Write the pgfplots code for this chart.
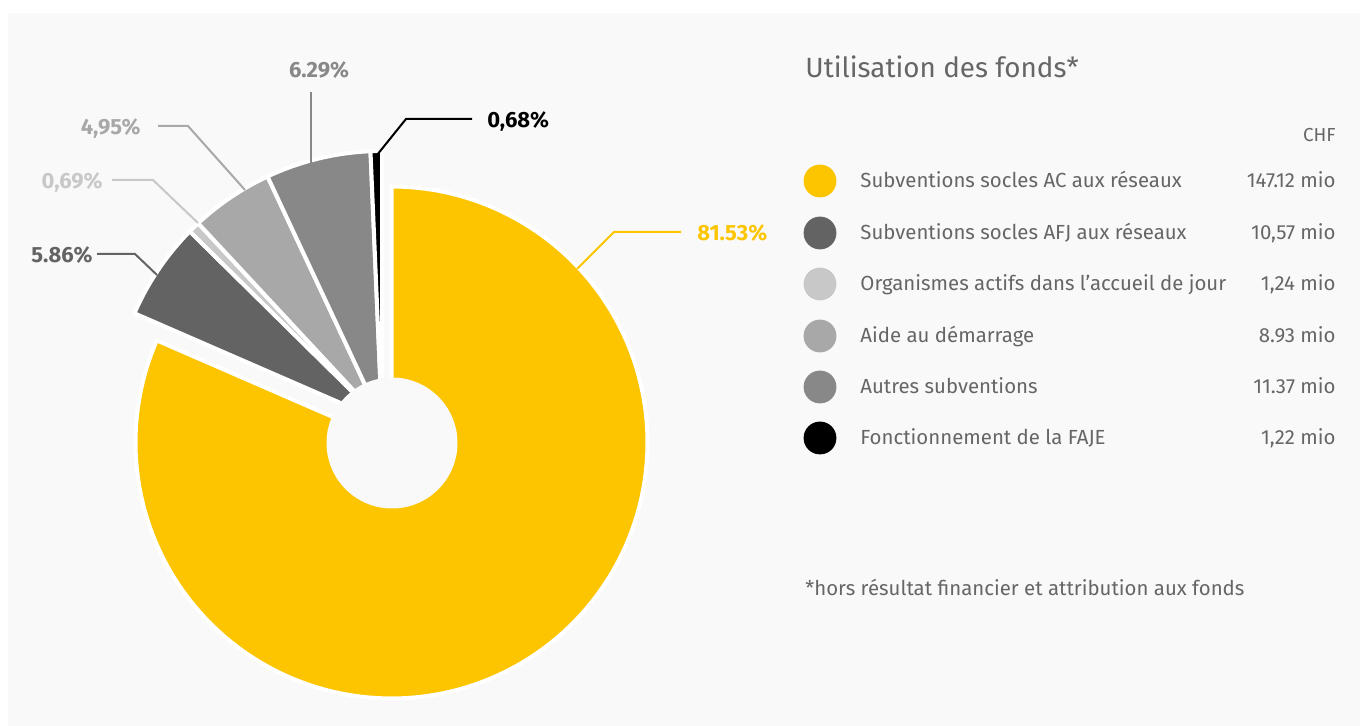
\documentclass[border=0pt]{standalone}
\usepackage{pgfplots}
\pgfplotsset{compat=1.18}
\usepackage{fontspec}
\setmainfont{Fira Sans}

\definecolor{yel}{HTML}{FCC500}
\definecolor{dgray}{HTML}{636363}
\definecolor{lgray}{HTML}{C8C8C8}
\definecolor{mgray}{HTML}{A8A8A8}
\definecolor{ggray}{HTML}{888888}
\definecolor{panel}{HTML}{F9F9F9}
\definecolor{txt}{HTML}{666666}

% one slice of the ring: colour, apex x, apex y, radius, start %, end % (clockwise from the top)
\newcommand{\slice}[6]{%
  \addplot[fill=#1, draw=white, line width=2bp, line join=round,
    domain={90-3.6*#6}:{90-3.6*#5}, samples=150, variable=\t]
    ({#2+#4*cos(\t)}, {#3+#4*sin(\t)}) -- (axis cs:#2,#3) -- cycle;
}

\begin{document}
\begin{tikzpicture}
\begin{axis}[
    width=680bp, height=363bp, scale only axis,
    xmin=0, xmax=1360, ymin=0, ymax=726,
    hide axis, clip=false,
]
% background
\addplot[fill=white, draw=none] coordinates {(0,0) (1360,0) (1360,726) (0,726)} -- cycle;
\addplot[fill=panel, draw=none] coordinates {(8,0) (1360,0) (1360,713) (8,713)} -- cycle;

% shares in %: 81.53, 5.86, 0.69, 4.95, 6.29, 0.68
\slice{yel}{391.5}{283.5}{256}{0}{81.53}
\slice{dgray}{382}{305}{270}{81.53}{87.39}
\slice{lgray}{382}{305}{270}{87.39}{88.08}
\slice{mgray}{382}{305}{270}{88.08}{93.03}
\slice{ggray}{382}{305}{270}{93.03}{99.32}
\slice{black}{382}{305}{270}{99.32}{100}

% hole
\addplot[fill=panel, draw=none, domain=0:360, samples=120, variable=\t]
  ({392+65.5*cos(\t)}, {283+65.5*sin(\t)}) -- cycle;

% leader lines
\addplot[yel, line width=1bp] coordinates {(577,457) (614,494) (681,494)};
\addplot[dgray, line width=1bp] coordinates {(97,472) (135,472) (157,451)};
\addplot[lgray, line width=1bp] coordinates {(112,546) (153,546) (198,503)};
\addplot[mgray, line width=1bp] coordinates {(158,600) (188,600) (245,536)};
\addplot[ggray, line width=1bp] coordinates {(311,634) (311,563)};
\addplot[black, line width=1bp] coordinates {(472,607) (406,607) (377,571)};

% percentage labels
\tikzset{pct/.style={font=\fontsize{11bp}{13bp}\selectfont\bfseries, inner sep=0pt}}
\node[pct, yel, anchor=base west] at (axis cs:697,485.5) {81.53\%};
\node[pct, dgray, anchor=base east] at (axis cs:93,463.5) {5.86\%};
\node[pct, lgray, anchor=base east] at (axis cs:103,537.5) {0,69\%};
\node[pct, mgray, anchor=base east] at (axis cs:141,591.5) {4,95\%};
\node[pct, ggray, anchor=base] at (axis cs:319,648.5) {6.29\%};
\node[pct, black, anchor=base west] at (axis cs:487,598.5) {0,68\%};

% legend
\addplot[only marks, mark=*, mark size=8bp, yel] coordinates {(820,545)};
\addplot[only marks, mark=*, mark size=8bp, dgray] coordinates {(820,493)};
\addplot[only marks, mark=*, mark size=8bp, lgray] coordinates {(820,442)};
\addplot[only marks, mark=*, mark size=8bp, mgray] coordinates {(820,390)};
\addplot[only marks, mark=*, mark size=8bp, ggray] coordinates {(820,339)};
\addplot[only marks, mark=*, mark size=8bp, black] coordinates {(820,288)};

\tikzset{leg/.style={font=\fontsize{10.2bp}{12bp}\selectfont, txt, inner sep=0pt}}
\node[font=\fontsize{13.9bp}{16bp}\selectfont, txt, inner sep=0pt, anchor=base west] at (axis cs:805,648.5) {Utilisation des fonds*};
\node[leg, anchor=base east, font=\fontsize{9.4bp}{11bp}\selectfont] at (axis cs:1336,584) {CHF};
\node[leg, anchor=base west] at (axis cs:860,538) {Subventions socles AC aux réseaux};
\node[leg, anchor=base west] at (axis cs:860,486) {Subventions socles AFJ aux réseaux};
\node[leg, anchor=base west] at (axis cs:860,435) {Organismes actifs dans l'accueil de jour};
\node[leg, anchor=base west] at (axis cs:860,383) {Aide au démarrage};
\node[leg, anchor=base west] at (axis cs:860,332) {Autres subventions};
\node[leg, anchor=base west] at (axis cs:860,281) {Fonctionnement de la FAJE};
\node[leg, anchor=base east] at (axis cs:1336,538) {147.12 mio};
\node[leg, anchor=base east] at (axis cs:1336,486) {10,57 mio};
\node[leg, anchor=base east] at (axis cs:1336,435) {1,24 mio};
\node[leg, anchor=base east] at (axis cs:1336,383) {8.93 mio};
\node[leg, anchor=base east] at (axis cs:1336,332) {11.37 mio};
\node[leg, anchor=base east] at (axis cs:1336,281) {1,22 mio};
\node[leg, anchor=base west] at (axis cs:805,130) {*hors résultat financier et attribution aux fonds};
\end{axis}
\end{tikzpicture}
\end{document}
